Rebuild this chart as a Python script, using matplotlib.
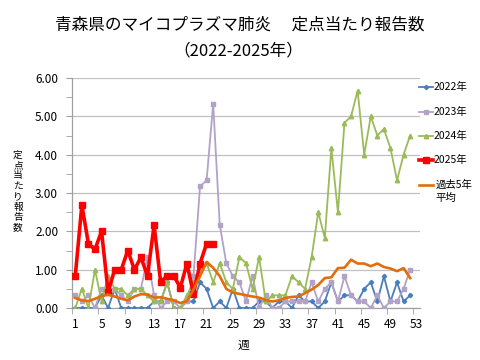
import numpy as np
import matplotlib
matplotlib.use("Agg")
import matplotlib.pyplot as plt
from matplotlib.lines import Line2D

plt.rcParams['font.family'] = ['Noto Sans CJK JP', 'DejaVu Sans']

weeks = list(range(1, 54))
tick_weeks = list(range(1, 54, 4))

y2022 = [0, 0, 0, 0, 0.33, 0, 0.5, 0, 0, 0, 0, 0, 0.17, 0.17, 0.67, 0, 0, 0.17, 0.17, 0.67,
         0.5, 0, 0.17, 0, 0.5, 0, 0, 0, 0.17, 0.17, 0, 0.17, 0.17, 0, 0.33, 0.17, 0.17, 0, 0.17, 0.67,
         0.17, 0.33, 0.33, 0.17, 0.5, 0.67, 0.17, 0.83, 0.17, 0.67, 0.17, 0.33]
y2023 = [0.33, 0.17, 0.33, 0, 0.5, 0.5, 0.5, 0.33, 0.17, 0.5, 0.5, 1.33, 0.33, 0, 0.17, 0.17, 0, 0.17, 0.83, 3.17,
         3.33, 5.33, 2.17, 1.17, 0.83, 0.67, 0.17, 0.83, 0, 0.33, 0, 0, 0.17, 0.17, 0.17, 0.17, 0.67, 0.17, 0.5, 0.67,
         0.17, 0.83, 0.33, 0.17, 0.17, 0, 0.33, 0, 0.17, 0.17, 0.5, 1.0]
y2024 = [0, 0.5, 0, 1.0, 0.17, 0.83, 0.5, 0.5, 0.33, 0.5, 0.5, 0.33, 0.17, 0.17, 0.67, 0, 0, 0.33, 0.67, 1.0,
         1.17, 0.67, 1.17, 0.67, 0.5, 1.33, 1.17, 0.5, 1.33, 0.17, 0.33, 0.33, 0.33, 0.83, 0.67, 0.5, 1.33, 2.5, 1.83, 4.17,
         2.5, 4.83, 5.0, 5.67, 4.0, 5.0, 4.5, 4.67, 4.17, 3.33, 4.0, 4.5]
y2025 = [0.84, 2.68, 1.68, 1.53, 2.0, 0.42, 1.0, 1.0, 1.5, 1.0, 1.32, 0.84, 2.16, 0.68, 0.84, 0.84, 0.53, 1.16, 0.37, 1.16,
         1.68, 1.68]
y_avg = [0.26, 0.2, 0.18, 0.24, 0.31, 0.35, 0.3, 0.24, 0.2, 0.3, 0.36, 0.35, 0.27, 0.28, 0.24, 0.2, 0.13, 0.18, 0.48, 0.83,
         1.2, 1.05, 0.83, 0.5, 0.4, 0.37, 0.33, 0.3, 0.27, 0.21, 0.17, 0.2, 0.26, 0.29, 0.3, 0.39, 0.48, 0.6, 0.78, 0.8,
         1.04, 1.05, 1.26, 1.16, 1.16, 1.09, 1.16, 1.07, 1.03, 0.96, 1.04, 0.78]

series = [
    ("2022年", y2022, '#4A7EBB', 'D', 2.2, 1.3),
    ("2023年", y2023, '#B3A2C7', 's', 3.2, 1.3),
    ("2024年", y2024, '#9BBB59', '^', 3.2, 1.3),
    ("2025年", y2025, '#FF0000', 's', 5.0, 2.6),
]

fig = plt.figure(figsize=(4.8, 3.6), dpi=100)
ax = fig.add_axes([72/480, 1-308/360, (420-72)/480, (308-78)/360])

for label, vals, color, mk, ms, lw in series:
    ax.plot(weeks[:len(vals)], vals, color=color, marker=mk, markersize=ms, linewidth=lw,
            markeredgecolor=color, zorder=3)
ax.plot(weeks[:len(y_avg)], y_avg, color='#E46C0A', linewidth=1.9, zorder=4)

ax.set_xlim(0.5, 53.5)
ax.set_ylim(0, 6)
ax.set_yticks(np.arange(0, 6.01, 1))
ax.set_yticks(np.arange(0.5, 6, 1), minor=True)
ax.set_yticklabels([f"{v:.2f}" for v in np.arange(0, 6.01, 1)], fontsize=8.5)
ax.set_xticks(tick_weeks)
ax.set_xticklabels([str(w) for w in tick_weeks], fontsize=8.5)
ax.set_xticks(np.arange(0.5, 54, 4), minor=True)
ax.tick_params(axis='x', which='major', length=0, pad=7)
ax.tick_params(axis='x', which='minor', length=4, color='#A0A0A0')
ax.tick_params(axis='y', which='both', length=4, color='#A0A0A0', pad=6)
ax.grid(axis='y', which='major', color='#C0C0C0', linewidth=0.9)
ax.set_axisbelow(True)
for s in ['top', 'right']:
    ax.spines[s].set_visible(False)
for s in ['left', 'bottom']:
    ax.spines[s].set_color('#A0A0A0')
    ax.spines[s].set_linewidth(0.9)

fig.text(240/480, 1-25/360, "青森県のマイコプラズマ肺炎　 定点当たり報告数", ha='center', va='center', fontsize=12)
fig.text(238/480, 1-51/360, "（2022-2025年）", ha='center', va='center', fontsize=12)
fig.text(18/480, 1-191/360, "\n".join("定点当たり報告数"), ha='center', va='center', fontsize=7,
         linespacing=1.05)
fig.text(243/480, 1-345/360, "週", ha='center', va='center', fontsize=8.5)

# legend
leg_y = [87, 112, 136, 160]
for (label, vals, color, mk, ms, lw), yy in zip(series, leg_y):
    yf = 1 - yy/360
    fig.add_artist(Line2D([419/480, 433/480], [yf, yf], color=color, linewidth=lw))
    fig.add_artist(Line2D([426/480], [yf], color=color, marker=mk, markersize=ms, markeredgecolor=color))
    fig.text(434/480, yf, label, ha='left', va='center', fontsize=7.5)
yf = 1 - 185/360
fig.add_artist(Line2D([419/480, 433/480], [yf, yf], color='#E46C0A', linewidth=1.9))
fig.text(436/480, yf, "過去5年", ha='left', va='center', fontsize=7.5)
fig.text(435/480, 1-198/360, "平均", ha='left', va='center', fontsize=7.5)

fig.savefig("out.png", dpi=100)
